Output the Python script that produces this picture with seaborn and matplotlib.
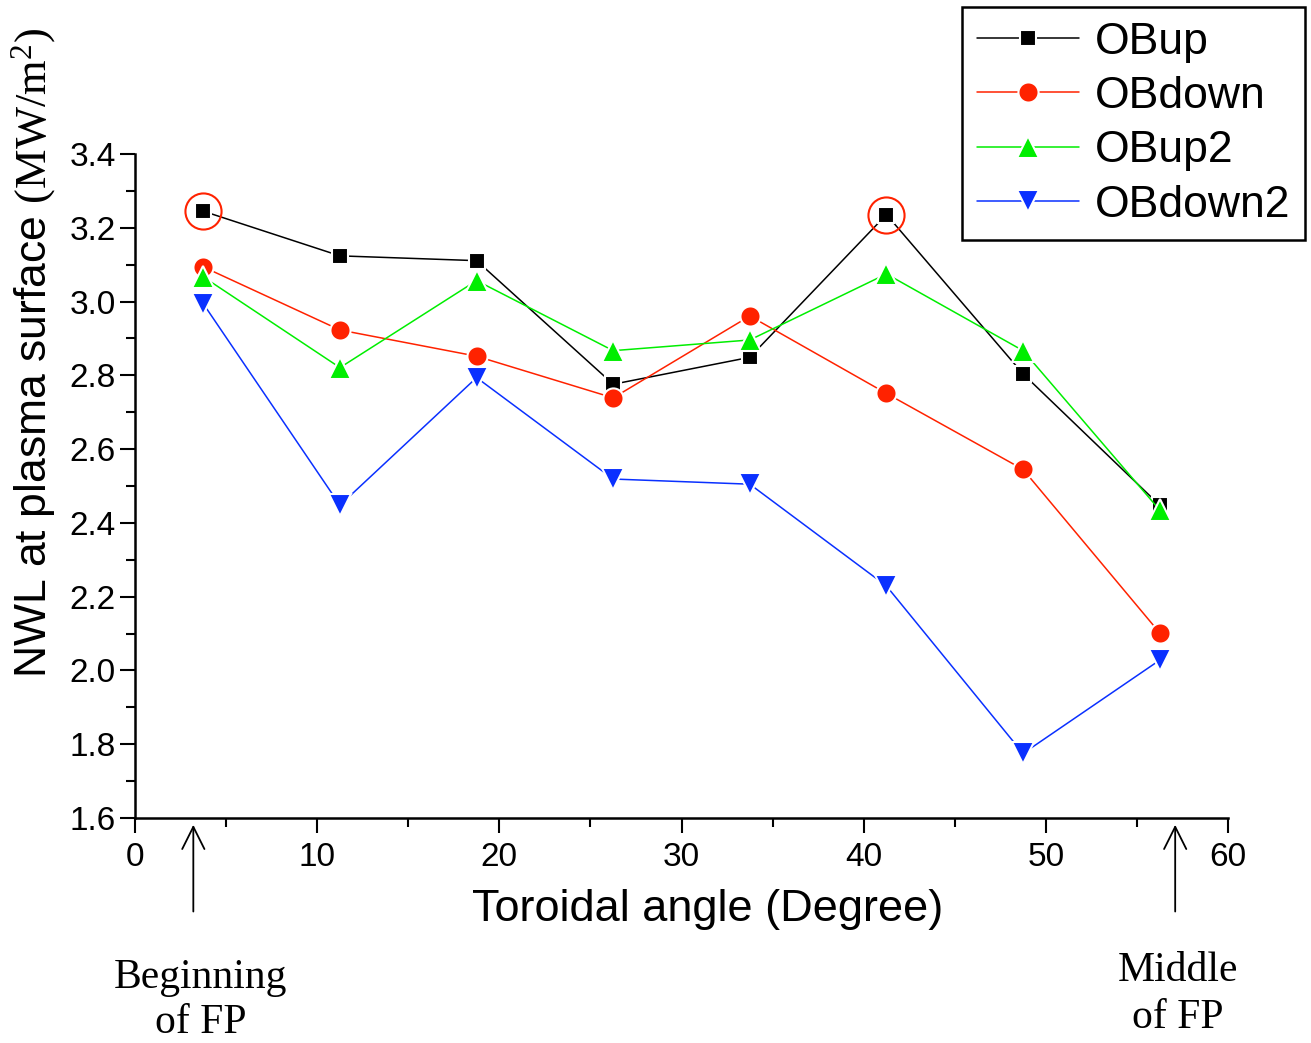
import numpy as np
import matplotlib
matplotlib.use("Agg")
import matplotlib.pyplot as plt
import seaborn as sns

# datos
angles = [3.75, 11.25, 18.75, 26.25, 33.75, 41.25, 48.75, 56.25]
ob_up = [3.245, 3.124, 3.111, 2.776, 2.849, 3.236, 2.804, 2.448]
ob_down = [3.094, 2.923, 2.852, 2.739, 2.961, 2.751, 2.545, 2.102]
ob_up2 = [3.067, 2.821, 3.057, 2.867, 2.896, 3.075, 2.867, 2.435]
ob_down2 = [2.994, 2.448, 2.794, 2.519, 2.505, 2.229, 1.775, 2.028]

series_names = ["OBup", "OBdown", "OBup2", "OBdown2"]
series_values = [ob_up, ob_down, ob_up2, ob_down2]
colors = ["black", "#ff2200", "#00ee00", "#0a30ff"]
markers = ["s", "o", "^", "v"]
msizes = [12, 14.5, 16.5, 16.5]

# puntos marcados con circulo (indices en OBup)
circled = [0, 5]
arrow_x = [3.2, 57.1]

sns.set_style("ticks")
plt.rcParams["font.family"] = ["Liberation Sans", "DejaVu Sans"]
plt.rcParams["mathtext.fontset"] = "custom"
plt.rcParams["mathtext.rm"] = "Liberation Serif"
for k in ["text.color", "axes.labelcolor", "xtick.color", "ytick.color"]:
    plt.rcParams[k] = "black"

fig = plt.figure(figsize=(13.11, 10.43), dpi=100)
ax = fig.add_axes([0.103, 0.2157, 0.8337, 0.6366])

for name, vals, c, m, ms in zip(series_names, series_values, colors, markers, msizes):
    sns.lineplot(x=angles, y=vals, ax=ax, color=c, marker=m, markersize=ms,
                 linewidth=1.1, label=name, markeredgecolor="white",
                 markeredgewidth=1.5)

# circulos rojos
ax.plot([angles[i] for i in circled], [ob_up[i] for i in circled], "o",
        ms=26, mfc="none", mec="#ff2200", mew=1.5, label="_nolegend_")

ax.set_xlim(0, 60)
ax.set_ylim(1.6, 3.4)
ax.set_xticks(np.arange(0, 61, 10))
ax.set_xticks(np.arange(5, 60, 10), minor=True)
ax.set_yticks(np.arange(1.6, 3.41, 0.2))
ax.set_yticks(np.arange(1.7, 3.4, 0.2), minor=True)
ax.set_yticklabels([f"{v:.1f}" for v in np.arange(1.6, 3.41, 0.2)])
ax.tick_params(axis="both", which="major", length=11, width=1.5, labelsize=24,
               color="black", labelcolor="black")
ax.tick_params(axis="both", which="minor", length=6.5, width=1.5, color="black")
ax.tick_params(axis="x", which="major", pad=6)
ax.tick_params(axis="y", which="major", pad=3)
for s in ["top", "right"]:
    ax.spines[s].set_visible(False)
for s in ["left", "bottom"]:
    ax.spines[s].set_linewidth(1.8)
    ax.spines[s].set_color("black")

ax.set_xlabel("Toroidal angle (Degree)", fontsize=32.5)
ax.xaxis.set_label_coords(0.524, -0.107)
ax.set_ylabel(r"NWL at plasma surface $\mathrm{(MW/m^2)}$", fontsize=32)
ax.yaxis.set_label_coords(-0.0705, 0.70)

# flechas
for xa in arrow_x:
    ax.annotate("", xy=(xa, -0.006), xycoords=("data", "axes fraction"),
                xytext=(xa, -0.145), textcoords=("data", "axes fraction"),
                arrowprops=dict(arrowstyle="->", lw=1.3, color="black",
                                mutation_scale=40),
                annotation_clip=False)

fig.text(0.153, 0.041, "Beginning\nof FP", ha="center", va="center",
         fontsize=30, family="Liberation Serif", linespacing=1.2)
fig.text(0.8986, 0.047, "Middle\nof FP", ha="center", va="center",
         fontsize=30, family="Liberation Serif", linespacing=1.3)

ax.get_legend().remove()
handles, labels = ax.get_legend_handles_labels()
leg = fig.legend(handles[:4], labels[:4], loc="upper right",
                 bbox_to_anchor=(0.9954, 0.9933), fontsize=32,
                 frameon=True, fancybox=False, edgecolor="black",
                 framealpha=1, borderpad=0.33, labelspacing=0.3,
                 handlelength=2.3, handletextpad=0.35, borderaxespad=0)
leg.get_frame().set_linewidth(1.8)

fig.savefig("out.png", dpi=100)
